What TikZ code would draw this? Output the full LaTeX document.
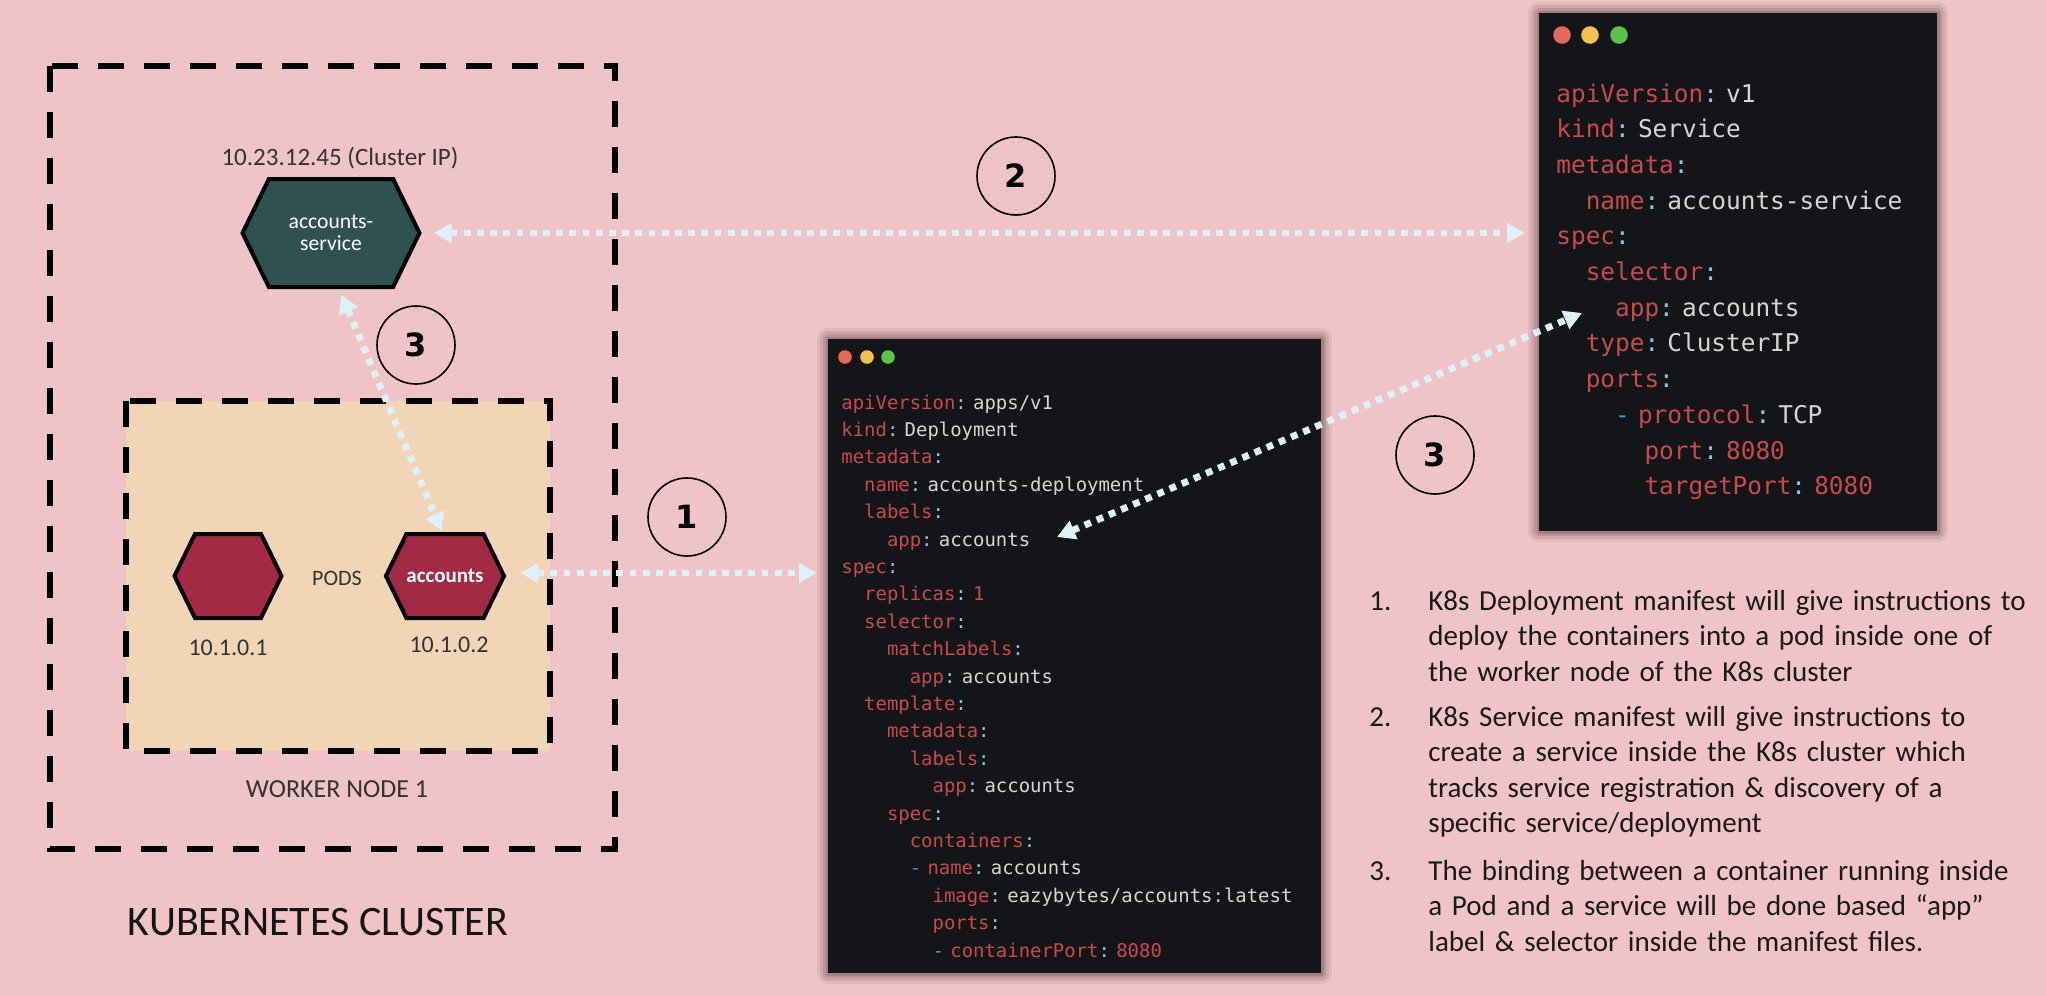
\documentclass[tikz,border=0pt]{standalone}
\usepackage{fontspec}
\setmainfont{Carlito}
\newfontfamily\codefont{DejaVu Sans Mono}
\newfontfamily\numfont{DejaVu Sans}
\usetikzlibrary{arrows.meta,shapes.symbols,positioning}

\definecolor{bgpink}{HTML}{F0C4C6}
\definecolor{workerfill}{HTML}{F2D5B7}
\definecolor{svcfill}{HTML}{2F5150}
\definecolor{podfill}{HTML}{A22A44}
\definecolor{linkblue}{HTML}{DCF1F8}
\definecolor{codebg}{HTML}{141518}
\definecolor{codekey}{HTML}{C84A4C}
\definecolor{codeval}{HTML}{D6D6D6}
\definecolor{codecolon}{HTML}{8EC3E6}
\definecolor{codedash}{HTML}{4C93CF}
\definecolor{labelgray}{HTML}{333333}
\definecolor{dotred}{HTML}{E8675B}
\definecolor{dotyellow}{HTML}{F2C04C}
\definecolor{dotgreen}{HTML}{5DC24C}
\definecolor{shade}{HTML}{3A2224}

% yaml colouring
\newcommand{\ky}[1]{\textcolor{codekey}{#1}}
\newcommand{\vl}[1]{\textcolor{codeval}{#1}}
\newcommand{\cl}{\textcolor{codecolon}{:}}
\newcommand{\dsh}{\textcolor{codedash}{-}}
\newcommand{\indt}[1]{\hspace*{#1\fontcharwd\font`\x}}

\tikzset{
  boundary/.style={line width=3pt, dash pattern=on 13pt off 10pt},
  hexa/.style={signal, signal to=east and west, signal pointer angle=128,
    draw=black, line width=2pt, inner sep=0pt},
  badge/.style={circle, draw=black, line width=0.8pt, minimum size=39pt,
    inner sep=0pt, font=\numfont\bfseries\fontsize{16}{16}\selectfont},
  link/.style={linkblue, line width=3.4pt, dash pattern=on 3.4pt off 3.2pt,
    arrows={Triangle[length=9pt,width=9.5pt]-Triangle[length=9pt,width=9.5pt]}},
  window/.style={fill=codebg, anchor=north west, inner sep=0pt, line join=round,
    preaction={draw=shade, draw opacity=0.08, line width=11pt},
    preaction={draw=shade, draw opacity=0.1, line width=8pt},
    preaction={draw=shade, draw opacity=0.13, line width=5pt},
    preaction={draw=shade, draw opacity=0.18, line width=2.5pt}},
  code/.style={anchor=base west, inner sep=0pt, align=left, text=codeval},
  caption/.style={text=labelgray, inner sep=0pt, anchor=base},
  listtext/.style={anchor=base west, inner sep=0pt, align=left, text width=320pt,
    text=black!90, font=\fontsize{14.5}{17.75}\selectfont},
}

\begin{document}
\begin{tikzpicture}[x=0.5pt, y=-0.5pt]
  \useasboundingbox (0,0) rectangle (2046,996);
  \fill[bgpink] (0,0) rectangle (2046,996);

  % cluster and worker node
  \draw[boundary] (50,66) rectangle (615,849);
  \draw[boundary, fill=workerfill] (126,401) rectangle (550,751);

  % service and pods
  \node[hexa, fill=svcfill, minimum width=88.5pt, minimum height=54pt, text=white,
    align=center, font=\fontsize{10.8}{11}\selectfont] (svc) at (331,233) {accounts-\\service};
  \node[hexa, fill=podfill, minimum width=53.5pt, minimum height=42pt] (pod1) at (228,576) {};
  \node[hexa, fill=podfill, minimum width=54pt, minimum height=42pt, text=white,
    font=\bfseries\fontsize{10.5}{10.5}\selectfont] (pod2) at (445,576) {accounts};

  \node[caption, font=\fontsize{12.5}{12.5}\selectfont] (svcip) at (340,165) {10.23.12.45 (Cluster IP)};
  \node[caption, font=\fontsize{11}{11}\selectfont] (pods) at (337,585) {PODS};
  \node[caption, font=\fontsize{12}{12}\selectfont] (ip1) at (228,655) {10.1.0.1};
  \node[caption, font=\fontsize{12}{12}\selectfont] (ip2) at (449,652) {10.1.0.2};
  \node[caption, font=\fontsize{13}{13}\selectfont] (worker) at (337,797) {WORKER NODE 1};
  \node[caption, text=black!92, font=\fontsize{21}{21}\selectfont] (cluster) at (318,935) {KUBERNETES CLUSTER};

  % step badges
  \node[badge] (n1) at (687,517) {1};
  \node[badge] (n2) at (1016,176) {2};
  \node[badge] (n3a) at (416,345) {3};
  \node[badge] (n3b) at (1435,455) {3};

  % deployment manifest
  \node[window, minimum width=246.5pt, minimum height=317pt] (depbox) at (828,339) {};
  \foreach \x/\c in {845/dotred, 867/dotyellow, 888/dotgreen}
    \fill[\c] (\x,357) circle (3.4pt);
  \node[code, text width=235pt, font=\codefont\fontsize{9.47}{13.7}\selectfont] (depcode) at (841,409) {%
    \ky{apiVersion}\cl\ \vl{apps/v1}\\
    \ky{kind}\cl\ \vl{Deployment}\\
    \ky{metadata}\cl\\
    \indt{2}\ky{name}\cl\ \vl{accounts-deployment}\\
    \indt{2}\ky{labels}\cl\\
    \indt{4}\ky{app}\cl\ \vl{accounts}\\
    \ky{spec}\cl\\
    \indt{2}\ky{replicas}\cl\ \ky{1}\\
    \indt{2}\ky{selector}\cl\\
    \indt{4}\ky{matchLabels}\cl\\
    \indt{6}\ky{app}\cl\ \vl{accounts}\\
    \indt{2}\ky{template}\cl\\
    \indt{4}\ky{metadata}\cl\\
    \indt{6}\ky{labels}\cl\\
    \indt{8}\ky{app}\cl\ \vl{accounts}\\
    \indt{4}\ky{spec}\cl\\
    \indt{6}\ky{containers}\cl\\
    \indt{6}\dsh\ \ky{name}\cl\ \vl{accounts}\\
    \indt{8}\ky{image}\cl\ \vl{eazybytes/accounts}\cl\vl{latest}\\
    \indt{8}\ky{ports}\cl\\
    \indt{8}\dsh\ \ky{containerPort}\cl\ \ky{8080}};

  % service manifest
  \node[window, minimum width=199pt, minimum height=259pt] (svcbox) at (1539,13) {};
  \foreach \x/\c in {1562/dotred, 1590/dotyellow, 1619/dotgreen}
    \fill[\c] (\x,35) circle (4.4pt);
  \node[code, text width=185pt, font=\codefont\fontsize{12.2}{17.85}\selectfont] (svccode) at (1556,102) {%
    \ky{apiVersion}\cl\ \vl{v1}\\
    \ky{kind}\cl\ \vl{Service}\\
    \ky{metadata}\cl\\
    \indt{2}\ky{name}\cl\ \vl{accounts-service}\\
    \ky{spec}\cl\\
    \indt{2}\ky{selector}\cl\\
    \indt{4}\ky{app}\cl\ \vl{accounts}\\
    \indt{2}\ky{type}\cl\ \vl{ClusterIP}\\
    \indt{2}\ky{ports}\cl\\
    \indt{4}\dsh\ \ky{protocol}\cl\ \vl{TCP}\\
    \indt{6}\ky{port}\cl\ \ky{8080}\\
    \indt{6}\ky{targetPort}\cl\ \ky{8080}};

  % bindings
  \coordinate (deplabel) at (1057,537);
  \coordinate (svcselect) at (1582,313);
  \draw[link, shorten <=6pt, shorten >=7pt] (svc.east) -- (svc.east -| svcbox.west);
  \draw[link, shorten <=7pt, shorten >=5.5pt] ([yshift=1.5pt]pod2.east) -- ([yshift=1.5pt]pod2.east -| depbox.west);
  \draw[link, shorten <=3pt, shorten >=0.5pt] ([xshift=4pt]svc.south) -- ([xshift=-1.5pt]pod2.north);
  \draw[link] (deplabel) -- (svcselect);

  % notes
  \node[listtext, text width=20pt] (num1) at (1369,610) {1.};
  \node[listtext] (item1) at (1428,610) {K8s Deployment manifest will give instructions to\\deploy the containers into a pod inside one of\\the worker node of the K8s cluster};
  \node[listtext, text width=20pt] (num2) at (1369,726) {2.};
  \node[listtext] (item2) at (1428,726) {K8s Service manifest will give instructions to\\create a service inside the K8s cluster which\\tracks service registration \& discovery of a\\specific service/deployment};
  \node[listtext, text width=20pt] (num3) at (1369,880) {3.};
  \node[listtext] (item3) at (1428,880) {The binding between a container running inside\\a Pod and a service will be done based “app”\\label \& selector inside the manifest files.};
\end{tikzpicture}
\end{document}
